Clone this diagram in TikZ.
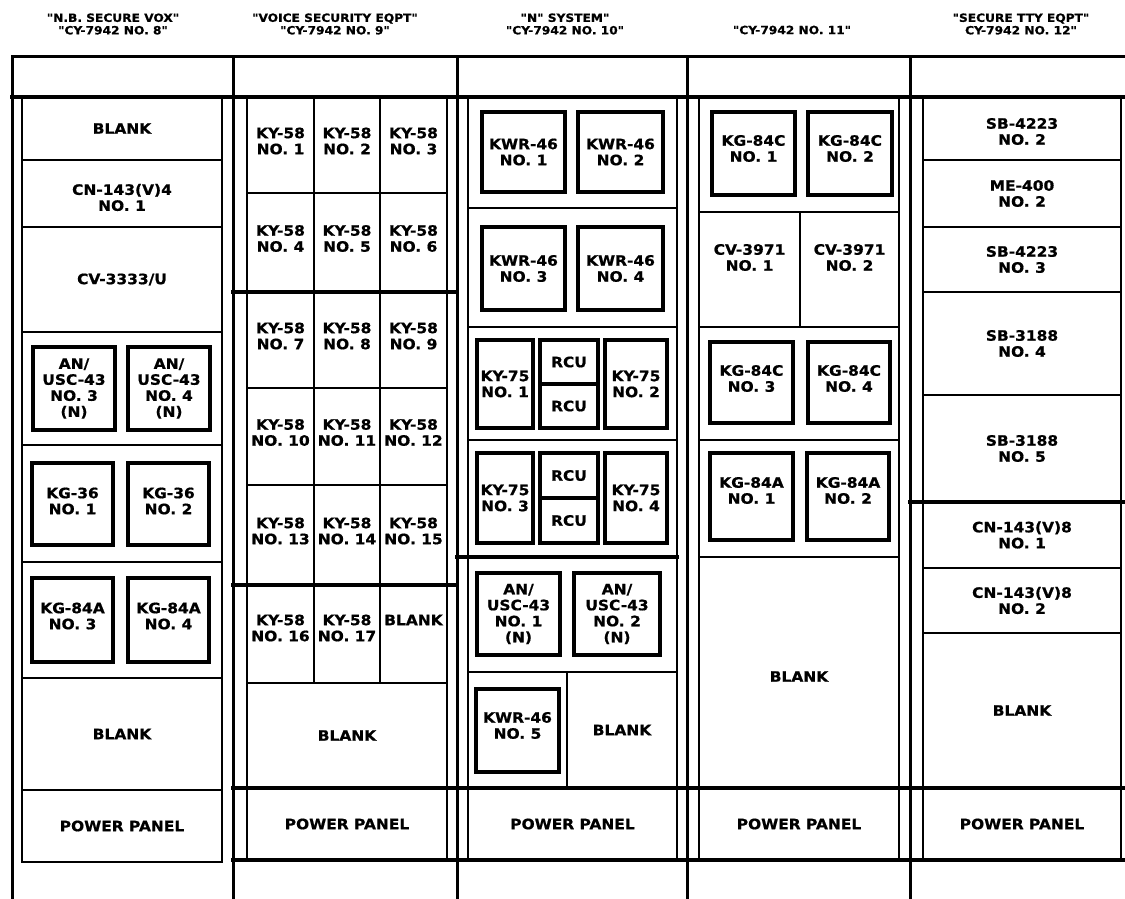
\documentclass[tikz,border=0pt]{standalone}
\usepackage{fontspec}
\newfontfamily\cadfont{DejaVu Sans}[FakeStretch=1.08,FakeBold=0.8]
\tikzset{
  frame/.style={line width=3pt, line cap=rect},
  heavy/.style={line width=3.6pt, line cap=rect},
  cell/.style={draw, line width=2.7pt, rectangle, inner sep=0pt, outer sep=0pt},
  unitbox/.style={draw, line width=3.1pt, rectangle, inner sep=0pt, outer sep=0pt},
  lbl/.style={inner sep=0pt, align=center, font=\cadfont\bfseries\fontsize{14.3}{16}\selectfont},
  ttl/.style={inner sep=0pt, align=center, font=\cadfont\bfseries\fontsize{11.3}{12.5}\selectfont},
}
\newcommand\mkbox[8]{%
  \pgfmathsetmacro\bxw{#6-#4}%
  \pgfmathsetmacro\bxh{#7-#5}%
  \pgfmathsetmacro\bxx{(#4+#6)/2}%
  \pgfmathsetmacro\bxy{(#5+#7)/2}%
  \node[#1, minimum width=\bxw pt, minimum height=\bxh pt] (#3) at (\bxx,\bxy) {};%
  \node[lbl, yshift=#2pt] (#3-t) at (#3.center) {#8};%
}
\newcommand\bx[7][0]{\mkbox{cell}{#1}{#2}{#3}{#4}{#5}{#6}{#7}}
\newcommand\ux[7][0]{\mkbox{unitbox}{#1}{#2}{#3}{#4}{#5}{#6}{#7}}
\begin{document}
\begin{tikzpicture}[x=1pt,y=-1pt]
\useasboundingbox (0,0) rectangle (1125,899);
\fill[white] (0,0) rectangle (1125,899);

% titles
\node[ttl] (t1) at (113,24) {"N.B. SECURE VOX"\\"CY-7942 NO. 8"};
\node[ttl] (t2) at (335,24) {"VOICE SECURITY EQPT"\\"CY-7942 NO. 9"};
\node[ttl] (t3) at (565,24) {"N" SYSTEM"\\"CY-7942 NO. 10"};
\node[ttl] (t4) at (792,30) {"CY-7942 NO. 11"};
\node[ttl] (t5) at (1021,24) {"SECURE TTY EQPT"\\CY-7942 NO. 12"};

% cabinet frame
\draw[frame] (12,57) -- (1125,57);
\foreach \xx in {12,233,457,687,910} \draw[frame] (\xx,57) -- (\xx,899);
\draw[heavy] (12,97) -- (233,97);
\draw[heavy] (233,97) -- (457,97);
\draw[heavy] (457,97) -- (687,97);
\draw[heavy] (687,97) -- (910,97);
\draw[heavy] (910,97) -- (1125,97);

% ---------- rack 1 ----------
\bx{r1a}{22}{97}{222}{160}{BLANK}
\bx[-4]{r1b}{22}{160}{222}{227}{CN-143(V)4\\NO. 1}
\bx{r1c}{22}{227}{222}{332}{CV-3333/U}
\bx{r1d}{22}{332}{222}{445}{}
\ux{r1d1}{33}{347}{115}{430}{AN/\\USC-43\\NO. 3\\(N)}
\ux{r1d2}{128}{347}{210}{430}{AN/\\USC-43\\NO. 4\\(N)}
\bx{r1e}{22}{445}{222}{562}{}
\ux[3]{r1e1}{32}{463}{113}{545}{KG-36\\NO. 1}
\ux[3]{r1e2}{128}{463}{209}{545}{KG-36\\NO. 2}
\bx{r1f}{22}{562}{222}{678}{}
\ux[4]{r1f1}{32}{578}{113}{662}{KG-84A\\NO. 3}
\ux[4]{r1f2}{128}{578}{209}{662}{KG-84A\\NO. 4}
\bx{r1g}{22}{678}{222}{790}{BLANK}
\bx{r1h}{22}{790}{222}{862}{POWER PANEL}

% ---------- rack 2 ----------
\bx[4]{r2c1}{247}{97}{314}{193}{KY-58\\NO. 1}
\bx[4]{r2c2}{314}{97}{380}{193}{KY-58\\NO. 2}
\bx[4]{r2c3}{380}{97}{447}{193}{KY-58\\NO. 3}
\bx[4]{r2c4}{247}{193}{314}{292}{KY-58\\NO. 4}
\bx[4]{r2c5}{314}{193}{380}{292}{KY-58\\NO. 5}
\bx[4]{r2c6}{380}{193}{447}{292}{KY-58\\NO. 6}
\bx[4]{r2c7}{247}{292}{314}{388}{KY-58\\NO. 7}
\bx[4]{r2c8}{314}{292}{380}{388}{KY-58\\NO. 8}
\bx[4]{r2c9}{380}{292}{447}{388}{KY-58\\NO. 9}
\bx[4]{r2c10}{247}{388}{314}{485}{KY-58\\NO. 10}
\bx[4]{r2c11}{314}{388}{380}{485}{KY-58\\NO. 11}
\bx[4]{r2c12}{380}{388}{447}{485}{KY-58\\NO. 12}
\bx[4]{r2c13}{247}{485}{314}{585}{KY-58\\NO. 13}
\bx[4]{r2c14}{314}{485}{380}{585}{KY-58\\NO. 14}
\bx[4]{r2c15}{380}{485}{447}{585}{KY-58\\NO. 15}
\bx[6]{r2c16}{247}{585}{314}{683}{KY-58\\NO. 16}
\bx[6]{r2c17}{314}{585}{380}{683}{KY-58\\NO. 17}
\bx[14]{r2c18}{380}{585}{447}{683}{BLANK}
\bx{r2b}{247}{683}{447}{788}{BLANK}
\bx{r2p}{247}{788}{447}{860}{POWER PANEL}
\draw[heavy] (233,292) -- (457,292);
\draw[heavy] (233,585) -- (457,585);

% ---------- rack 3 ----------
\bx{r3a}{468}{97}{677}{208}{}
\ux{r3a1}{482}{112}{565}{192}{KWR-46\\NO. 1}
\ux{r3a2}{578}{112}{663}{192}{KWR-46\\NO. 2}
\bx{r3b}{468}{208}{677}{327}{}
\ux{r3b1}{482}{227}{565}{310}{KWR-46\\NO. 3}
\ux{r3b2}{578}{227}{663}{310}{KWR-46\\NO. 4}
\bx{r3c}{468}{327}{677}{440}{}
\ux{r3c1}{477}{340}{533}{428}{KY-75\\NO. 1}
\ux{r3c2}{540}{340}{598}{384}{RCU}
\ux{r3c3}{540}{384}{598}{428}{RCU}
\ux{r3c4}{605}{340}{667}{428}{KY-75\\NO. 2}
\bx{r3d}{468}{440}{677}{557}{}
\ux{r3d1}{477}{453}{533}{543}{KY-75\\NO. 3}
\ux{r3d2}{540}{453}{598}{498}{RCU}
\ux{r3d3}{540}{498}{598}{543}{RCU}
\ux{r3d4}{605}{453}{667}{543}{KY-75\\NO. 4}
\bx{r3e}{468}{557}{677}{672}{}
\ux{r3e1}{477}{573}{560}{655}{AN/\\USC-43\\NO. 1\\(N)}
\ux{r3e2}{574}{573}{660}{655}{AN/\\USC-43\\NO. 2\\(N)}
\bx{r3f}{468}{672}{567}{788}{}
\ux[5]{r3f1}{476}{689}{559}{772}{KWR-46\\NO. 5}
\bx{r3g}{567}{672}{677}{788}{BLANK}
\bx{r3p}{468}{788}{677}{860}{POWER PANEL}
\draw[heavy] (457,557) -- (677,557);

% ---------- rack 4 ----------
\bx{r4a}{699}{97}{899}{212}{}
\ux[5]{r4a1}{712}{112}{795}{195}{KG-84C\\NO. 1}
\ux[5]{r4a2}{808}{112}{892}{195}{KG-84C\\NO. 2}
\bx[12]{r4b}{699}{212}{800}{327}{CV-3971\\NO. 1}
\bx[12]{r4c}{800}{212}{899}{327}{CV-3971\\NO. 2}
\bx{r4d}{699}{327}{899}{440}{}
\ux[4]{r4d1}{710}{342}{793}{423}{KG-84C\\NO. 3}
\ux[4]{r4d2}{808}{342}{890}{423}{KG-84C\\NO. 4}
\bx{r4e}{699}{440}{899}{557}{}
\ux[6]{r4e1}{710}{453}{793}{540}{KG-84A\\NO. 1}
\ux[6]{r4e2}{807}{453}{889}{540}{KG-84A\\NO. 2}
\bx[-4]{r4f}{699}{557}{899}{788}{BLANK}
\bx{r4p}{699}{788}{899}{860}{POWER PANEL}

% ---------- rack 5 ----------
\bx[-3]{r5a}{923}{97}{1121}{160}{SB-4223\\NO. 2}
\bx{r5b}{923}{160}{1121}{227}{ME-400\\NO. 2}
\bx{r5c}{923}{227}{1121}{292}{SB-4223\\NO. 3}
\bx{r5d}{923}{292}{1121}{395}{SB-3188\\NO. 4}
\bx{r5e}{923}{395}{1121}{502}{SB-3188\\NO. 5}
\bx{r5f}{923}{502}{1121}{568}{CN-143(V)8\\NO. 1}
\bx{r5g}{923}{568}{1121}{633}{CN-143(V)8\\NO. 2}
\bx{r5h}{923}{633}{1121}{788}{BLANK}
\bx{r5p}{923}{788}{1121}{860}{POWER PANEL}
\draw[heavy] (910,502) -- (1125,502);

% bottom spanning lines
\draw[heavy] (233,788) -- (1125,788);
\draw[heavy] (233,860) -- (1125,860);
\end{tikzpicture}
\end{document}
